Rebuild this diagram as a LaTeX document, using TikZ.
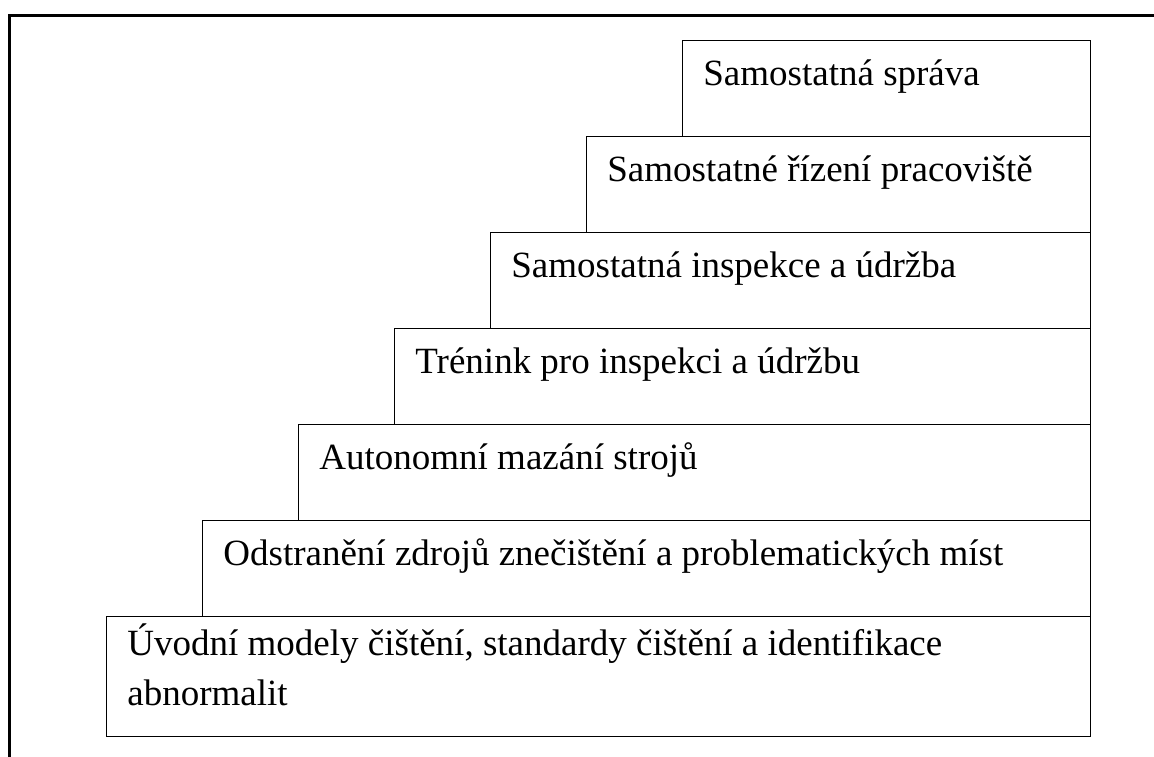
\documentclass[tikz,border=0pt]{standalone}
\usepackage{fontspec}
\setmainfont{Liberation Serif}
\begin{document}
\begin{tikzpicture}[x=1pt,y=-1pt,
  frame/.style={line width=3.4pt},
  stepbox/.style={draw,line width=1.4pt},
  steplabel/.style={anchor=base west,inner sep=0pt,font=\fontsize{37}{50}\selectfont}]
\useasboundingbox (0,0) rectangle (1154,756);
% outer frame, running past the right and bottom edges
\draw[frame] (9.2,15.3) rectangle (1170,780);
% staircase of boxes, 96 units per step
\foreach \i/\nm in {0/s7,1/s6,2/s5,3/s4,4/s3,5/s2}{
  \pgfmathsetmacro{\l}{682.7-96*\i}
  \pgfmathsetmacro{\t}{40.7+96*\i}
  \draw[stepbox] (\l,\t) rectangle (1090.5,\t+96);
  \coordinate (\nm) at (\l+20.5,\t+45);
}
\draw[stepbox] (106.7,616.7) rectangle (1090.5,736.7);
\coordinate (s1) at (127.2,655);
\node[steplabel] (t7) at (s7) {Samostatná správa};
\node[steplabel] (t6) at (s6) {Samostatné řízení pracoviště};
\node[steplabel] (t5) at (s5) {Samostatná inspekce a údržba};
\node[steplabel] (t4) at (s4) {Trénink pro inspekci a údržbu};
\node[steplabel] (t3) at (s3) {Autonomní mazání strojů};
\node[steplabel] (t2) at (s2) {Odstranění zdrojů znečištění a problematických míst};
\node[steplabel] (t1) at (s1) {\parbox[t]{950pt}{\raggedright Úvodní modely čištění, standardy čištění a identifikace\\abnormalit}};
\end{tikzpicture}
\end{document}
